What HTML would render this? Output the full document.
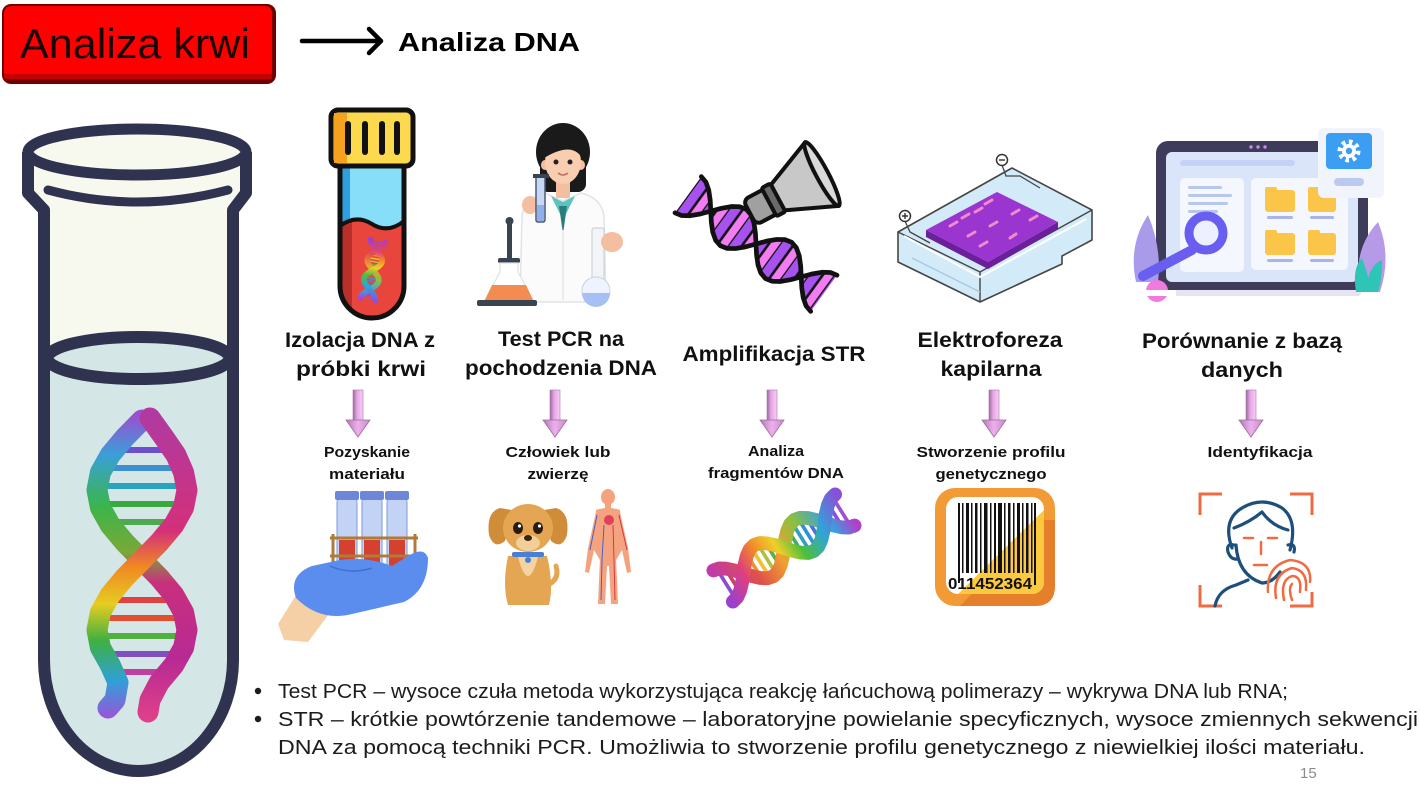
<!DOCTYPE html>
<html><head><meta charset="utf-8">
<style>
html,body{margin:0;padding:0;background:#fff;}
svg{display:block;}
text{font-family:"Liberation Sans","DejaVu Sans",sans-serif;}
.t{font-weight:bold;font-size:21px;fill:#111;}
.s{font-weight:bold;font-size:15px;fill:#111;}
.b{font-size:20px;fill:#1c1c1c;}
</style></head><body>
<svg width="1420" height="804" viewBox="0 0 1420 804" xmlns="http://www.w3.org/2000/svg">
<defs>
  <linearGradient id="shaft" x1="0" y1="0" x2="1" y2="0">
    <stop offset="0" stop-color="#9a679f"/><stop offset="0.4" stop-color="#e6a6e4"/><stop offset="1" stop-color="#f9cdf6"/>
  </linearGradient>
  <linearGradient id="head" x1="0" y1="0" x2="1" y2="0">
    <stop offset="0" stop-color="#b07ab6"/><stop offset="0.5" stop-color="#eeb0ec"/><stop offset="1" stop-color="#c98bc8"/>
  </linearGradient>
  <linearGradient id="gA" gradientUnits="userSpaceOnUse" x1="0" y1="415" x2="0" y2="720">
    <stop offset="0" stop-color="#9b4fd0"/><stop offset="0.13" stop-color="#3a9fd8"/><stop offset="0.3" stop-color="#3bb54a"/><stop offset="0.45" stop-color="#7aa838"/><stop offset="0.55" stop-color="#c8307c"/><stop offset="0.8" stop-color="#b82a94"/><stop offset="1" stop-color="#e0408a"/>
  </linearGradient>
  <linearGradient id="gB" gradientUnits="userSpaceOnUse" x1="0" y1="415" x2="0" y2="720">
    <stop offset="0" stop-color="#b03aa0"/><stop offset="0.38" stop-color="#d4307a"/><stop offset="0.5" stop-color="#f08a22"/><stop offset="0.62" stop-color="#e6cc22"/><stop offset="0.74" stop-color="#3fb040"/><stop offset="0.87" stop-color="#2fa0d8"/><stop offset="1" stop-color="#a050d8"/>
  </linearGradient>
  <linearGradient id="rb" gradientUnits="userSpaceOnUse" x1="-80" y1="0" x2="80" y2="0">
    <stop offset="0" stop-color="#9a3fd0"/><stop offset="0.18" stop-color="#e0407a"/><stop offset="0.32" stop-color="#f08a2a"/><stop offset="0.46" stop-color="#f0cf2a"/><stop offset="0.6" stop-color="#4cbf3c"/><stop offset="0.78" stop-color="#2fa5d8"/><stop offset="1" stop-color="#8a4fd8"/>
  </linearGradient>
  <linearGradient id="rb2" gradientUnits="userSpaceOnUse" x1="-80" y1="0" x2="80" y2="0">
    <stop offset="0" stop-color="#c03aa8"/><stop offset="0.25" stop-color="#e0504a"/><stop offset="0.45" stop-color="#f0a030"/><stop offset="0.65" stop-color="#8ac040"/><stop offset="0.85" stop-color="#3aa0e0"/><stop offset="1" stop-color="#b040c8"/>
  </linearGradient>
  <pattern id="stripes" width="24" height="10" patternUnits="userSpaceOnUse">
    <rect width="12" height="10" fill="#a752ef"/><rect x="12" width="12" height="10" fill="#f27df2"/>
    <rect x="10.5" width="3" height="10" fill="#111"/><rect x="22.5" width="3" height="10" fill="#111"/>
  </pattern>
  <g id="dnaS">
    <line x1="-74" y1="-19" x2="-74" y2="19" stroke="#8a4fd0" stroke-width="4"/>
    <line x1="-66" y1="-15" x2="-66" y2="15" stroke="#d04060" stroke-width="4"/>
    <line x1="-38" y1="-15" x2="-38" y2="15" stroke="#f09030" stroke-width="4"/>
    <line x1="-30" y1="-19" x2="-30" y2="19" stroke="#f0c030" stroke-width="4"/>
    <line x1="-22" y1="-19" x2="-22" y2="19" stroke="#b0c040" stroke-width="4"/>
    <line x1="-14" y1="-15" x2="-14" y2="15" stroke="#60b040" stroke-width="4"/>
    <line x1="14" y1="-15" x2="14" y2="15" stroke="#40b060" stroke-width="4"/>
    <line x1="22" y1="-19" x2="22" y2="19" stroke="#30a0c0" stroke-width="4"/>
    <line x1="30" y1="-19" x2="30" y2="19" stroke="#3090d8" stroke-width="4"/>
    <line x1="38" y1="-15" x2="38" y2="15" stroke="#5070d8" stroke-width="4"/>
    <line x1="66" y1="-15" x2="66" y2="15" stroke="#8a4fd8" stroke-width="4"/>
    <line x1="74" y1="-19" x2="74" y2="19" stroke="#a050d0" stroke-width="4"/>
    <polyline fill="none" stroke="url(#rb2)" stroke-width="15" stroke-linecap="round" stroke-linejoin="round" points="-78,-20 -71.5,-18.5 -65,-14.1 -58.5,-7.7 -52,0 -45.5,7.7 -39,14.1 -32.5,18.5 -26,20 -19.5,18.5 -13,14.1 -6.5,7.7 0,0 6.5,-7.7 13,-14.1 19.5,-18.5 26,-20 32.5,-18.5 39,-14.1 45.5,-7.7 52,0 58.5,7.7 65,14.1 71.5,18.5 78,20"/>
    <polyline fill="none" stroke="url(#rb)" stroke-width="15" stroke-linecap="round" stroke-linejoin="round" points="-78,20 -71.5,18.5 -65,14.1 -58.5,7.7 -52,0 -45.5,-7.7 -39,-14.1 -32.5,-18.5 -26,-20 -19.5,-18.5 -13,-14.1 -6.5,-7.7 0,0 6.5,7.7 13,14.1 19.5,18.5 26,20 32.5,18.5 39,14.1 45.5,7.7 52,0 58.5,-7.7 65,-14.1 71.5,-18.5 78,-20"/>
  </g>
  <g id="parr">
    <rect x="-5" y="0" width="10" height="31" fill="url(#shaft)" stroke="#a476a8" stroke-width="0.6"/>
    <polygon points="-12,30 12,30 0,47" fill="url(#head)" stroke="#9c6ba0" stroke-width="0.8"/>
  </g>
  <clipPath id="bcClip"><rect x="946" y="497" width="98" height="97" rx="12"/></clipPath>
</defs>

<!-- Header -->
<rect x="2" y="4" width="274" height="80" rx="9" fill="#6e0000"/>
<rect x="4" y="6" width="268" height="73" rx="7" fill="#ff0000"/>
<rect x="4" y="74" width="268" height="5" rx="2" fill="#c40000"/>
<text x="20" y="58" font-size="42" textLength="230" lengthAdjust="spacingAndGlyphs" fill="#1a0505">Analiza krwi</text>
<line x1="302" y1="41" x2="380" y2="41" stroke="#000" stroke-width="4.5" stroke-linecap="round"/>
<polyline points="369,29 381,41 369,53" fill="none" stroke="#000" stroke-width="4.5" stroke-linecap="round" stroke-linejoin="round"/>
<text x="398" y="51" font-size="26" font-weight="bold" textLength="182" lengthAdjust="spacingAndGlyphs" fill="#000">Analiza DNA</text>

<!-- Big tube -->
<path d="M28,152 L28,193 L44,210 L44,660 A94.5 111 0 0 0 233 660 L233,210 L246,193 L246,152 Z" fill="#f8f9ee"/>
<path d="M44,358 L44,660 A94.5 111 0 0 0 233 660 L233,358 Z" fill="#d4e6e6"/>
<ellipse cx="138.5" cy="358" rx="91" ry="21" fill="#d4e6e6" stroke="#2f3350" stroke-width="12"/>
<path d="M28,152 L28,193 L44,210 L44,660 A94.5 111 0 0 0 233 660 L233,210 L246,193 L246,152" fill="none" stroke="#2f3350" stroke-width="12" stroke-linejoin="round"/>
<ellipse cx="137" cy="152" rx="109" ry="23" fill="#f8f9ee" stroke="#2f3350" stroke-width="11"/>
<path d="M48,190 Q137,214 228,190" fill="none" stroke="#2f3350" stroke-width="9" stroke-linecap="round"/>
<!-- big DNA -->
<g stroke-width="6" stroke-linecap="round">
  <line x1="106" y1="450" x2="178" y2="450" stroke="#6a4fd0"/>
  <line x1="102" y1="468" x2="182" y2="468" stroke="#3f8fd0"/>
  <line x1="97" y1="486" x2="187" y2="486" stroke="#2aa2c0"/>
  <line x1="99" y1="504" x2="184" y2="504" stroke="#39a840"/>
  <line x1="108" y1="522" x2="175" y2="522" stroke="#50a850"/>
  <line x1="107" y1="600" x2="177" y2="600" stroke="#e04040"/>
  <line x1="99" y1="618" x2="185" y2="618" stroke="#e05030"/>
  <line x1="97" y1="636" x2="186" y2="636" stroke="#50b040"/>
  <line x1="103" y1="654" x2="181" y2="654" stroke="#8050c0"/>
  <line x1="112" y1="672" x2="168" y2="672" stroke="#c040a0"/>
</g>
<polyline fill="none" stroke="url(#gA)" stroke-width="21" stroke-linecap="round" stroke-linejoin="round" points="142,420 124.8,437.5 110.2,455 100.4,472.5 97,490 100.4,507.5 110.2,525 124.8,542.5 142,560 159.2,577.5 173.8,595 183.6,612.5 187,630 183.6,647.5 173.8,665 159.2,682.5 150,700 148,712"/>
<polyline fill="none" stroke="url(#gB)" stroke-width="21" stroke-linecap="round" stroke-linejoin="round" points="150,418 164,437.5 176,455 183.6,472.5 187,490 183.6,507.5 173.8,525 159.2,542.5 142,560 124.8,577.5 110.2,595 100.4,612.5 97,630 100.4,647.5 110.2,665 118,682.5 115,700 108,708"/>

<!-- Icon 1: blood tube -->
<path d="M340,165 L340,286 A32,32 0 0 0 404,286 L404,165 Z" fill="#e8453c"/>
<path d="M340,165 L340,286 A32,32 0 0 0 352,311 L352,165 Z" fill="#b9302b"/>
<path d="M340,226 Q356,214 372,224 T404,221 L404,165 L340,165 Z" fill="#86def8"/>
<path d="M340,226 Q346,221 350,220 L350,165 L340,165 Z" fill="#2f9fe0"/>
<path d="M340,226 Q356,214 372,224 T404,221" fill="none" stroke="#111" stroke-width="4"/>
<path d="M340,165 L340,286 A32,32 0 0 0 404,286 L404,165" fill="none" stroke="#111" stroke-width="5"/>
<rect x="331" y="110" width="82" height="56" rx="7" fill="#fdd94e" stroke="#111" stroke-width="5"/>
<rect x="334" y="113" width="13" height="50" fill="#f6a21e"/>
<g fill="#111"><rect x="345" y="121" width="6" height="34" rx="3"/><rect x="362" y="121" width="6" height="34" rx="3"/><rect x="379" y="121" width="6" height="34" rx="3"/><rect x="394" y="121" width="6" height="34" rx="3"/></g>
<use href="#dnaS" transform="translate(373,270) rotate(100) scale(0.38)"/>

<!-- Icon 2: scientist -->
<rect x="540" y="150" width="46" height="42" rx="8" fill="#1a1a1a"/>
<ellipse cx="563" cy="152" rx="27" ry="29" fill="#1a1a1a"/>
<rect x="556" y="180" width="14" height="18" fill="#f4bfa0"/>
<path d="M520,302 L522,215 Q525,198 545,193 L563,201 L581,193 Q601,198 604,215 L606,302 Z" fill="#fbfbfb" stroke="#e0e4e8" stroke-width="1.5"/>
<path d="M551,196 L563,220 L575,196 L563,202 Z" fill="#5cc3c0"/>
<path d="M559,206 L563,234 L567,206 Z" fill="#2b7d7d"/>
<line x1="563" y1="230" x2="563" y2="300" stroke="#e4e7ea" stroke-width="1.5"/>
<ellipse cx="545" cy="165" rx="4" ry="5" fill="#f4bfa0"/><ellipse cx="581" cy="165" rx="4" ry="5" fill="#f4bfa0"/>
<ellipse cx="563" cy="162" rx="18" ry="22" fill="#f9cdb0"/>
<path d="M544,158 Q546,128 563,127 Q581,128 582,158 Q572,141 544,158 Z" fill="#1a1a1a"/>
<circle cx="556" cy="162" r="2.5" fill="#222"/><circle cx="570" cy="162" r="2.5" fill="#222"/>
<path d="M558,173 Q563,177 568,173" fill="none" stroke="#c07060" stroke-width="1.5"/>
<ellipse cx="530" cy="205" rx="8" ry="9" fill="#f4bfa0"/>
<rect x="536" y="176" width="9" height="46" rx="2" fill="#c8d8f2" stroke="#4a5a7a" stroke-width="1.5"/>
<rect x="537" y="205" width="7" height="16" fill="#8fb0ea"/>
<rect x="533" y="174" width="16" height="4" fill="#3a4350"/>
<rect x="592" y="228" width="12" height="70" rx="2" fill="#f2f4f8" stroke="#cdd3dc" stroke-width="1.2"/>
<ellipse cx="612" cy="242" rx="11" ry="10" fill="#f4bfa0"/>
<circle cx="596" cy="291" r="14" fill="#eef3ff" stroke="#cfd6e6" stroke-width="1.2"/>
<path d="M582,293 A14,14 0 0 0 610,293 Z" fill="#a6c0f5"/>
<rect x="507" y="222" width="5" height="40" fill="#3a4350"/>
<circle cx="509.5" cy="221" r="4" fill="#3a4350"/>
<rect x="498" y="258" width="22" height="5" rx="2" fill="#3a4350"/>
<path d="M500,263 L518,263 L518,272 L533,300 L485,300 L500,272 Z" fill="#fff" stroke="#dde1e6" stroke-width="1.2"/>
<path d="M492,285 L526,285 L533,300 L485,300 Z" fill="#f28c50"/>
<rect x="477" y="300" width="60" height="6" rx="2" fill="#3a4350"/>

<!-- Icon 3: DNA + megaphone -->
<g transform="translate(756,244) rotate(36) scale(0.86)">
  <polygon fill="url(#stripes)" points="-97.5,26 -89.4,24 -81.3,18.4 -73.1,10 -65,0 -56.9,-10 -48.8,-18.4 -40.6,-24 -32.5,-26 -24.4,-24 -16.3,-18.4 -8.1,-10 0,0 8.1,10 16.3,18.4 24.4,24 32.5,26 40.6,24 48.8,18.4 56.9,10 65,0 73.1,-10 81.3,-18.4 89.4,-24 97.5,-26 97.5,26 89.4,24 81.3,18.4 73.1,10 65,0 56.9,-10 48.8,-18.4 40.6,-24 32.5,-26 24.4,-24 16.3,-18.4 8.1,-10 0,0 -8.1,10 -16.3,18.4 -24.4,24 -32.5,26 -40.6,24 -48.8,18.4 -56.9,10 -65,0 -73.1,-10 -81.3,-18.4 -89.4,-24 -97.5,-26"/>
  <polyline fill="none" stroke="#111" stroke-width="5.5" stroke-linejoin="round" stroke-linecap="round" points="-97.5,26 -89.4,24 -81.3,18.4 -73.1,10 -65,0 -56.9,-10 -48.8,-18.4 -40.6,-24 -32.5,-26 -24.4,-24 -16.3,-18.4 -8.1,-10 0,0 8.1,10 16.3,18.4 24.4,24 32.5,26 40.6,24 48.8,18.4 56.9,10 65,0 73.1,-10 81.3,-18.4 89.4,-24 97.5,-26"/>
  <polyline fill="none" stroke="#111" stroke-width="5.5" stroke-linejoin="round" stroke-linecap="round" points="-97.5,-26 -89.4,-24 -81.3,-18.4 -73.1,-10 -65,0 -56.9,10 -48.8,18.4 -40.6,24 -32.5,26 -24.4,24 -16.3,18.4 -8.1,10 0,0 8.1,-10 16.3,-18.4 24.4,-24 32.5,-26 40.6,-24 48.8,-18.4 56.9,-10 65,0 73.1,10 81.3,18.4 89.4,24 97.5,26"/>
</g>
<g transform="translate(792,190) rotate(-28)" stroke="#111" stroke-width="4" stroke-linejoin="round">
  <polygon points="-22,-12 34,-36 34,36 -22,12" fill="#c8c8c8"/>
  <ellipse cx="34" cy="0" rx="6" ry="36" fill="#dadada"/>
  <rect x="-48" y="-14" width="28" height="28" rx="6" fill="#a0a0a0"/>
  <rect x="-26" y="-16" width="10" height="32" rx="2" fill="#6a6a6a"/>
</g>

<!-- Icon 4: electrophoresis -->
<polygon points="898,232 1012,168 1092,210 1092,240 1062,256 1062,264 980,302 898,262" fill="#d3eaf8" stroke="#454545" stroke-width="1.6" stroke-linejoin="round"/>
<polyline points="898,232 980,272 1092,210" fill="none" stroke="#454545" stroke-width="1.4"/>
<line x1="980" y1="272" x2="980" y2="302" stroke="#454545" stroke-width="1.4"/>
<polyline points="904,236 980,277 1086,219" fill="none" stroke="#fff" stroke-width="2"/>
<polyline points="912,258 980,292" fill="none" stroke="#aac8dd" stroke-width="1.5"/>
<polygon points="926,237 988,269 1058,229 1058,222 988,262 926,230" fill="#6b1f9a"/>
<polygon points="926,230 997,192 1058,222 988,262" fill="#9a35cf"/>
<g stroke="#f08ac8" stroke-width="3" stroke-linecap="round">
  <line x1="950" y1="226" x2="957" y2="222"/><line x1="962" y1="218" x2="969" y2="214"/>
  <line x1="975" y1="212" x2="982" y2="208"/><line x1="985" y1="204" x2="992" y2="200"/>
  <line x1="968" y1="236" x2="975" y2="232"/><line x1="990" y1="226" x2="997" y2="222"/>
  <line x1="1012" y1="214" x2="1019" y2="210"/><line x1="980" y1="246" x2="987" y2="242"/>
  <line x1="1010" y1="238" x2="1016" y2="234"/><line x1="1030" y1="220" x2="1037" y2="216"/>
</g>
<polyline points="905,221 910,232 930,243" fill="none" stroke="#454545" stroke-width="1.3"/>
<polyline points="1002,165 1006,176 1020,176 1040,188" fill="none" stroke="#454545" stroke-width="1.3"/>
<circle cx="905" cy="216" r="5.5" fill="#fff" stroke="#333" stroke-width="1.5"/>
<path d="M902,216 H908 M905,213 V219" stroke="#333" stroke-width="1.4"/>
<circle cx="1002" cy="160" r="5.5" fill="#fff" stroke="#333" stroke-width="1.5"/>
<path d="M999,160 H1005" stroke="#333" stroke-width="1.4"/>

<!-- Icon 5: laptop -->
<rect x="1175" y="289" width="186" height="7" rx="3" fill="#e6e4f4"/>
<rect x="1156" y="141" width="212" height="149" rx="12" fill="#3e3c5a"/>
<circle cx="1251" cy="147" r="1.7" fill="#c78bea"/><circle cx="1258" cy="147" r="1.7" fill="#c78bea"/><circle cx="1265" cy="147" r="1.7" fill="#c78bea"/>
<rect x="1166" y="152" width="192" height="130" rx="6" fill="#dbe5fa"/>
<rect x="1180" y="160" width="115" height="6" rx="3" fill="#c4d3f5"/>
<rect x="1180" y="178" width="64" height="94" rx="5" fill="#f4f7fd"/>
<g fill="#b8c6ee"><rect x="1188" y="186" width="34" height="3" rx="1.5"/><rect x="1188" y="194" width="44" height="3" rx="1.5"/><rect x="1188" y="202" width="40" height="3" rx="1.5"/><rect x="1188" y="210" width="30" height="3" rx="1.5"/></g>
<rect x="1251" y="178" width="97" height="92" rx="5" fill="#f4f7fd"/>
<g fill="#fbc54a"><rect x="1265" y="190" width="30" height="22" rx="3"/><rect x="1308" y="190" width="28" height="22" rx="3"/><rect x="1265" y="233" width="30" height="22" rx="3"/><rect x="1308" y="233" width="28" height="22" rx="3"/>
<rect x="1265" y="187" width="12" height="6" rx="2"/><rect x="1308" y="187" width="12" height="6" rx="2"/><rect x="1265" y="230" width="12" height="6" rx="2"/><rect x="1308" y="230" width="12" height="6" rx="2"/></g>
<g fill="#a9b5ea"><rect x="1267" y="216" width="26" height="3" rx="1.5"/><rect x="1310" y="216" width="24" height="3" rx="1.5"/><rect x="1267" y="259" width="26" height="3" rx="1.5"/><rect x="1310" y="259" width="24" height="3" rx="1.5"/></g>
<rect x="1318" y="128" width="66" height="70" rx="6" fill="#f2f4fb"/>
<rect x="1326" y="133" width="46" height="36" rx="4" fill="#3c9ef2"/>
<circle cx="1349" cy="151" r="9" fill="none" stroke="#fff" stroke-width="5" stroke-dasharray="3.5 3.5"/>
<circle cx="1349" cy="151" r="7" fill="#fff"/>
<circle cx="1349" cy="151" r="3.2" fill="#3c9ef2"/>
<rect x="1334" y="178" width="30" height="8" rx="4" fill="#bcc8f0"/>
<path d="M1136,282 Q1128,245 1148,215 Q1162,248 1158,282 Z" fill="#a99bea"/>
<circle cx="1157" cy="291" r="11" fill="#f07ae0"/>
<rect x="1140" y="290" width="36" height="6" fill="#fff"/>
<line x1="1192" y1="250" x2="1143" y2="276" stroke="#6a5ef0" stroke-width="10" stroke-linecap="round"/>
<circle cx="1206" cy="233" r="17" fill="#e9edff" fill-opacity="0.7" stroke="#6a5ef0" stroke-width="9"/>
<path d="M1360,292 Q1352,250 1378,222 Q1392,255 1380,292 Z" fill="#b69ae8"/>
<path d="M1356,292 Q1352,268 1362,258 Q1368,275 1372,292 Z M1366,292 Q1368,265 1382,260 Q1382,280 1378,292 Z" fill="#2ec4b6"/>

<!-- Pink arrows -->
<use href="#parr" transform="translate(358,390)"/>
<use href="#parr" transform="translate(555,390)"/>
<use href="#parr" transform="translate(772,390)"/>
<use href="#parr" transform="translate(994,390)"/>
<use href="#parr" transform="translate(1251,390)"/>

<!-- Titles -->
<text class="t" x="360" y="347" text-anchor="middle" textLength="150" lengthAdjust="spacingAndGlyphs">Izolacja DNA z</text>
<text class="t" x="361" y="376" text-anchor="middle" textLength="130" lengthAdjust="spacingAndGlyphs">próbki krwi</text>
<text class="t" x="561" y="346" text-anchor="middle" textLength="126" lengthAdjust="spacingAndGlyphs">Test PCR na</text>
<text class="t" x="561" y="375" text-anchor="middle" textLength="192" lengthAdjust="spacingAndGlyphs">pochodzenia DNA</text>
<text class="t" x="774" y="361" text-anchor="middle" textLength="183" lengthAdjust="spacingAndGlyphs">Amplifikacja STR</text>
<text class="t" x="990" y="347" text-anchor="middle" textLength="145" lengthAdjust="spacingAndGlyphs">Elektroforeza</text>
<text class="t" x="991" y="376" text-anchor="middle" textLength="101" lengthAdjust="spacingAndGlyphs">kapilarna</text>
<text class="t" x="1242" y="348" text-anchor="middle" textLength="200" lengthAdjust="spacingAndGlyphs">Porównanie z bazą</text>
<text class="t" x="1242" y="377" text-anchor="middle" textLength="82" lengthAdjust="spacingAndGlyphs">danych</text>

<!-- Subtitles -->
<text class="s" x="367" y="457" text-anchor="middle" textLength="86" lengthAdjust="spacingAndGlyphs">Pozyskanie</text>
<text class="s" x="367" y="479" text-anchor="middle" textLength="76" lengthAdjust="spacingAndGlyphs">materiału</text>
<text class="s" x="558" y="457" text-anchor="middle" textLength="105" lengthAdjust="spacingAndGlyphs">Człowiek lub</text>
<text class="s" x="558" y="479" text-anchor="middle" textLength="61" lengthAdjust="spacingAndGlyphs">zwierzę</text>
<text class="s" x="776" y="456" text-anchor="middle" font-size="14" textLength="56" lengthAdjust="spacingAndGlyphs">Analiza</text>
<text class="s" x="776" y="478" text-anchor="middle" font-size="14" textLength="136" lengthAdjust="spacingAndGlyphs">fragmentów DNA</text>
<text class="s" x="991" y="457" text-anchor="middle" textLength="149" lengthAdjust="spacingAndGlyphs">Stworzenie profilu</text>
<text class="s" x="991" y="479" text-anchor="middle" textLength="111" lengthAdjust="spacingAndGlyphs">genetycznego</text>
<text class="s" x="1260" y="457" text-anchor="middle" textLength="105" lengthAdjust="spacingAndGlyphs">Identyfikacja</text>

<!-- Bottom icon 1: hand with tubes -->
<g>
  <rect x="337" y="494" width="20" height="86" rx="9" fill="#c3d3f5" stroke="#8fa6e0" stroke-width="1.2"/>
  <rect x="362" y="494" width="20" height="86" rx="9" fill="#c3d3f5" stroke="#8fa6e0" stroke-width="1.2"/>
  <rect x="387" y="494" width="20" height="86" rx="9" fill="#c3d3f5" stroke="#8fa6e0" stroke-width="1.2"/>
  <path d="M339,540 H355 V571 A8,8 0 0 1 339,571 Z" fill="#d5412f"/>
  <path d="M364,540 H380 V571 A8,8 0 0 1 364,571 Z" fill="#d5412f"/>
  <path d="M389,540 H405 V571 A8,8 0 0 1 389,571 Z" fill="#d5412f"/>
  <g fill="#6d86d8"><rect x="335" y="491" width="24" height="9" rx="2"/><rect x="360" y="491" width="24" height="9" rx="2"/><rect x="385" y="491" width="24" height="9" rx="2"/></g>
  <g stroke="#b07a3a" stroke-width="3" fill="none"><line x1="330" y1="538" x2="418" y2="538"/><line x1="330" y1="556" x2="418" y2="556"/><line x1="333" y1="534" x2="333" y2="590"/><line x1="415" y1="534" x2="415" y2="590"/><line x1="330" y1="589" x2="418" y2="589"/></g>
  <path d="M278,624 L298,592 L332,610 L308,642 L284,640 Z" fill="#f5cfa6"/>
  <path d="M296,598 Q288,575 312,566 L340,560 Q366,556 392,566 L408,556 Q424,546 428,558 Q428,590 404,602 L352,614 Q320,622 296,598 Z" fill="#5b8def"/>
  <path d="M330,566 Q350,575 372,568" fill="none" stroke="#3f6fd0" stroke-width="1.5"/>
</g>

<!-- Bottom icon 2: dog + human -->
<path d="M500,508 Q486,512 489,535 Q494,550 505,541 Q510,522 512,510 Z" fill="#cf8d3a"/>
<path d="M556,508 Q570,512 567,535 Q562,550 551,541 Q546,522 544,510 Z" fill="#cf8d3a"/>
<path d="M508,556 Q502,585 508,605 L549,605 Q554,585 547,556 Z" fill="#e4a653"/>
<path d="M518,557 Q528,595 538,557 Z" fill="#f3d3a0"/>
<path d="M547,585 Q560,580 556,566" fill="none" stroke="#e4a653" stroke-width="5" stroke-linecap="round"/>
<ellipse cx="528" cy="528" rx="25" ry="24" fill="#e4a653"/>
<ellipse cx="528" cy="543" rx="12" ry="8" fill="#f3cf98"/>
<ellipse cx="518" cy="528" rx="5" ry="6" fill="#2a1a10"/><ellipse cx="538" cy="528" rx="5" ry="6" fill="#2a1a10"/>
<circle cx="519.5" cy="526" r="1.6" fill="#fff"/><circle cx="539.5" cy="526" r="1.6" fill="#fff"/>
<ellipse cx="528" cy="538" rx="4" ry="3" fill="#3a2315"/>
<rect x="512" y="552" width="32" height="5" rx="2" fill="#4a7fd6"/>
<circle cx="528" cy="560" r="3" fill="#4a7fd6"/>
<g fill="#f5a27f">
  <ellipse cx="608" cy="497" rx="7" ry="8"/>
  <rect x="605" y="503" width="6" height="6"/>
  <path d="M596,510 Q608,506 620,510 L622,550 L616,560 L600,560 L594,550 Z"/>
  <path d="M596,512 L588,548 L585,572 L589,573 L594,550 L598,525 Z"/>
  <path d="M620,512 L628,548 L631,572 L627,573 L622,550 L618,525 Z"/>
  <path d="M600,558 L598,604 L605,604 L607,566 L609,566 L611,604 L618,604 L616,558 Z"/>
</g>
<ellipse cx="609" cy="520" rx="5" ry="5" fill="#e0405a"/>
<g fill="none" stroke-width="0.9"><path d="M604,525 L602,560 L601,600" stroke="#3a5ad0"/><path d="M613,525 L614,560 L615,600" stroke="#d03040"/><path d="M597,515 L590,550" stroke="#3a5ad0"/><path d="M619,515 L627,550" stroke="#d03040"/></g>

<!-- Bottom icon 3: rainbow DNA -->
<use href="#dnaS" transform="translate(784,548) rotate(-32) scale(0.92)"/>

<!-- Bottom icon 4: barcode -->
<rect x="935" y="488" width="120" height="118" rx="20" fill="#f29a35"/>
<path d="M1055,520 L1055,586 Q1055,606 1035,606 L960,606 L1044,520 Z" fill="#e57f2b"/>
<rect x="946" y="497" width="98" height="97" rx="12" fill="#fff"/>
<polygon points="1044,510 1044,594 958,594" fill="#fcc83f" clip-path="url(#bcClip)"/>
<g fill="#111">
  <rect x="958" y="503" width="2" height="70"/><rect x="962" y="503" width="1.5" height="70"/><rect x="966" y="503" width="3" height="70"/><rect x="971" y="503" width="1.5" height="70"/><rect x="975" y="503" width="2.5" height="70"/><rect x="980" y="503" width="1.5" height="70"/><rect x="984" y="503" width="3.5" height="70"/><rect x="990" y="503" width="1.5" height="70"/><rect x="994" y="503" width="2" height="70"/><rect x="998" y="503" width="4" height="70"/><rect x="1004" y="503" width="1.5" height="70"/><rect x="1008" y="503" width="2.5" height="70"/><rect x="1013" y="503" width="1.5" height="70"/><rect x="1017" y="503" width="3" height="70"/><rect x="1022" y="503" width="1.5" height="70"/><rect x="1026" y="503" width="2.5" height="70"/><rect x="1031" y="503" width="1.5" height="70"/><rect x="1034" y="503" width="2" height="82"/><rect x="958" y="503" width="2" height="80"/>
</g>
<text x="948" y="589" font-size="16" font-weight="bold" fill="#111" textLength="84" lengthAdjust="spacingAndGlyphs">011452364</text>

<!-- Bottom icon 5: face id -->
<g fill="none" stroke="#ef6c43" stroke-width="3">
  <polyline points="1200,515 1200,494 1222,494"/>
  <polyline points="1290,494 1312,494 1312,515"/>
  <polyline points="1200,585 1200,606 1222,606"/>
  <polyline points="1290,606 1312,606 1312,592"/>
</g>
<g fill="none" stroke="#1d4f7c" stroke-width="3.2" stroke-linecap="round" stroke-linejoin="round">
  <path d="M1232,548 Q1222,520 1242,508 Q1262,496 1282,508 Q1298,520 1290,550"/>
  <path d="M1234,528 Q1250,522 1262,512 Q1272,526 1288,530"/>
  <path d="M1236,545 Q1238,575 1262,583 Q1272,583 1280,572"/>
  <path d="M1234,545 Q1226,543 1228,552 Q1231,560 1237,559"/>
  <path d="M1288,545 Q1296,543 1294,552"/>
  <path d="M1215,606 Q1218,590 1236,585 L1248,580"/>
</g>
<g stroke="#ef6c43" stroke-width="2.5" stroke-linecap="round" fill="none">
  <line x1="1244" y1="538" x2="1253" y2="538"/><line x1="1268" y1="538" x2="1277" y2="538"/>
  <line x1="1261" y1="542" x2="1261" y2="554"/><line x1="1254" y1="565" x2="1267" y2="565"/>
  <path d="M1284,600 Q1280,580 1292,576 Q1302,576 1300,592"/>
  <path d="M1276,598 Q1272,574 1292,568 Q1308,570 1306,590"/>
  <path d="M1268,592 Q1266,566 1290,560 Q1312,562 1310,582"/>
  <path d="M1292,600 Q1288,588 1292,584"/>
</g>

<!-- Bottom bullets -->
<circle cx="258" cy="691" r="3.2" fill="#1c1c1c"/>
<circle cx="258" cy="719" r="3.2" fill="#1c1c1c"/>
<text class="b" x="278" y="698" textLength="1010" lengthAdjust="spacingAndGlyphs">Test PCR – wysoce czuła metoda wykorzystująca reakcję łańcuchową polimerazy – wykrywa DNA lub RNA;</text>
<text class="b" x="278" y="726" textLength="1140" lengthAdjust="spacingAndGlyphs">STR – krótkie powtórzenie tandemowe – laboratoryjne powielanie specyficznych, wysoce zmiennych sekwencji</text>
<text class="b" x="278" y="754" textLength="1087" lengthAdjust="spacingAndGlyphs">DNA za pomocą techniki PCR. Umożliwia to stworzenie profilu genetycznego z niewielkiej ilości materiału.</text>
<text x="1300" y="778" font-size="15" fill="#8c8c8c">15</text>
</svg>
</body></html>
